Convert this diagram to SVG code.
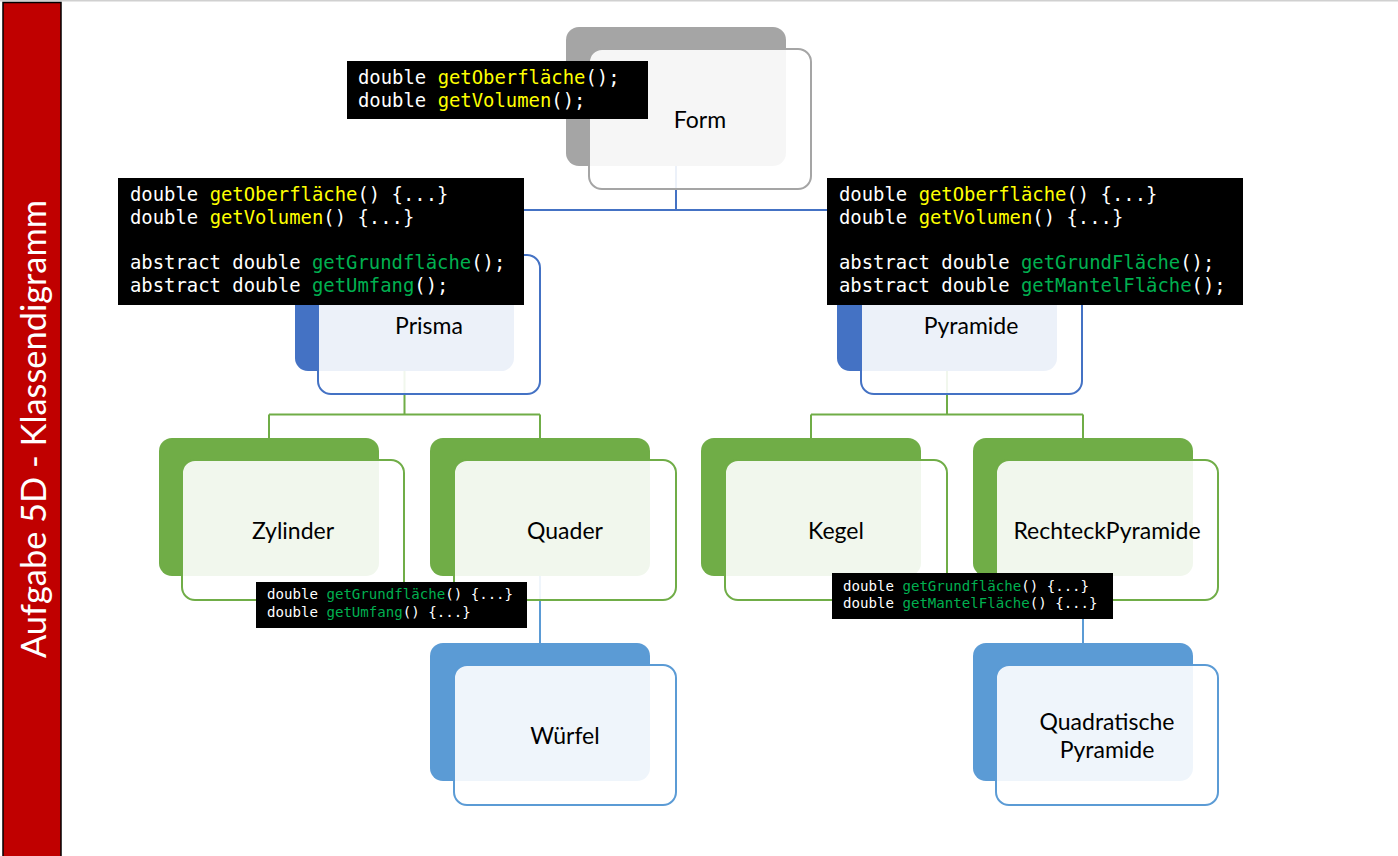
<svg xmlns="http://www.w3.org/2000/svg" width="1398" height="856" viewBox="0 0 1398 856">
<style>
.lbl{font-family:Lato,"Open Sans","Noto Sans",sans-serif;font-size:23px;fill:#000;text-anchor:middle;dominant-baseline:central}
.code{font-family:"DejaVu Sans Mono","Liberation Mono",monospace;font-size:18.9px;fill:#fff;white-space:pre}
.code2{font-family:"DejaVu Sans Mono","Liberation Mono",monospace;font-size:14.1px;fill:#fff;white-space:pre}
.y{fill:#FFFF00}
.g{fill:#00B050}
.box{fill:#000}
.front{fill:#fff;fill-opacity:0.9;stroke-width:2}
.c1{fill:none;stroke:#4472C4;stroke-width:2}
.c2{fill:none;stroke:#70AD47;stroke-width:2}
.c3{fill:none;stroke:#5B9BD5;stroke-width:2}
</style>
<rect x="0" y="0" width="1398" height="856" fill="#fff"/>
<line x1="0" y1="0.75" x2="1398" y2="0.75" stroke="#D0D0D0" stroke-width="1.5"/>
<g id="sidebar">
<rect x="3" y="2.5" width="58" height="860" fill="#C00000" stroke="#000" stroke-width="1.5"/>
<text transform="translate(46,429) rotate(-90)" font-family="Lato,'Open Sans',sans-serif" font-size="34" fill="#fff" text-anchor="middle" textLength="458" lengthAdjust="spacingAndGlyphs">Aufgabe 5D - Klassendigramm</text>
</g>
<g id="connectors">
<path class="c1" d="M676,165 V210 M404.5,210 H947 M404.5,210 V233 M947,210 V233"/>
<path class="c2" d="M404.5,371 V414.5 M269,414.5 H540 M269,414.5 V438 M540,414.5 V438"/>
<path class="c2" d="M947,371 V414.5 M811,414.5 H1083 M811,414.5 V438 M1083,414.5 V438"/>
<path class="c3" d="M540,576 V643 M1083,576 V643"/>
</g>
<g id="node-form">
<rect x="566" y="27" width="220" height="139" rx="13" fill="#A5A5A5"/>
<rect class="front" x="589" y="49" width="222" height="140" rx="13" stroke="#A5A5A5"/>
<text class="lbl" x="700" y="119">Form</text>
</g>
<g id="node-prisma">
<rect x="295" y="233" width="219" height="138" rx="13" fill="#4472C4"/>
<rect class="front" x="318" y="255" width="222" height="139" rx="13" stroke="#4472C4"/>
<text class="lbl" x="429" y="324.5">Prisma</text>
</g>
<g id="node-pyramide">
<rect x="837" y="233" width="220" height="138" rx="13" fill="#4472C4"/>
<rect class="front" x="861" y="255" width="221" height="139" rx="13" stroke="#4472C4"/>
<text class="lbl" x="971" y="324.5">Pyramide</text>
</g>
<g id="node-zylinder">
<rect x="159" y="438" width="220" height="138" rx="13" fill="#70AD47"/>
<rect class="front" x="182" y="460" width="222" height="140" rx="13" stroke="#70AD47"/>
<text class="lbl" x="293" y="530">Zylinder</text>
</g>
<g id="node-quader">
<rect x="430" y="438" width="220" height="138" rx="13" fill="#70AD47"/>
<rect class="front" x="454" y="460" width="222" height="140" rx="13" stroke="#70AD47"/>
<text class="lbl" x="565" y="530">Quader</text>
</g>
<g id="node-kegel">
<rect x="701" y="438" width="220" height="138" rx="13" fill="#70AD47"/>
<rect class="front" x="725" y="460" width="222" height="140" rx="13" stroke="#70AD47"/>
<text class="lbl" x="836" y="530">Kegel</text>
</g>
<g id="node-rechteckpyramide">
<rect x="973" y="438" width="220" height="138" rx="13" fill="#70AD47"/>
<rect class="front" x="996" y="460" width="222" height="140" rx="13" stroke="#70AD47"/>
<text class="lbl" x="1107" y="530">RechteckPyramide</text>
</g>
<g id="node-wuerfel">
<rect x="430" y="643" width="220" height="138" rx="13" fill="#5B9BD5"/>
<rect class="front" x="454" y="665" width="222" height="140" rx="13" stroke="#5B9BD5"/>
<text class="lbl" x="565" y="735">Würfel</text>
</g>
<g id="node-quadratische-pyramide">
<rect x="973" y="643" width="220" height="138" rx="13" fill="#5B9BD5"/>
<rect class="front" x="996" y="665" width="222" height="140" rx="13" stroke="#5B9BD5"/>
<text class="lbl" x="1107" y="721">Quadratische</text>
<text class="lbl" x="1107" y="749">Pyramide</text>
</g>
<g id="code-form">
<rect class="box" x="347" y="61" width="301" height="58"/>
<text class="code" x="358" y="84">double <tspan class="y">getOberfläche</tspan>();</text>
<text class="code" x="358" y="107">double <tspan class="y">getVolumen</tspan>();</text>
</g>
<g id="code-prisma">
<rect class="box" x="118" y="178" width="406" height="127"/>
<text class="code" x="130" y="201">double <tspan class="y">getOberfläche</tspan>() {...}</text>
<text class="code" x="130" y="224">double <tspan class="y">getVolumen</tspan>() {...}</text>
<text class="code" x="130" y="269">abstract double <tspan class="g">getGrundfläche</tspan>();</text>
<text class="code" x="130" y="292">abstract double <tspan class="g">getUmfang</tspan>();</text>
</g>
<g id="code-pyramide">
<rect class="box" x="827" y="178" width="416" height="127"/>
<text class="code" x="839" y="201">double <tspan class="y">getOberfläche</tspan>() {...}</text>
<text class="code" x="839" y="224">double <tspan class="y">getVolumen</tspan>() {...}</text>
<text class="code" x="839" y="269">abstract double <tspan class="g">getGrundFläche</tspan>();</text>
<text class="code" x="839" y="292">abstract double <tspan class="g">getMantelFläche</tspan>();</text>
</g>
<g id="code-prisma-children">
<rect class="box" x="256" y="582" width="271" height="46"/>
<text class="code2" x="267" y="599">double <tspan class="g">getGrundfläche</tspan>() {...}</text>
<text class="code2" x="267" y="617">double <tspan class="g">getUmfang</tspan>() {...}</text>
</g>
<g id="code-pyramide-children">
<rect class="box" x="832" y="573" width="281" height="46"/>
<text class="code2" x="843" y="591">double <tspan class="g">getGrundfläche</tspan>() {...}</text>
<text class="code2" x="843" y="608">double <tspan class="g">getMantelFläche</tspan>() {...}</text>
</g>
</svg>
